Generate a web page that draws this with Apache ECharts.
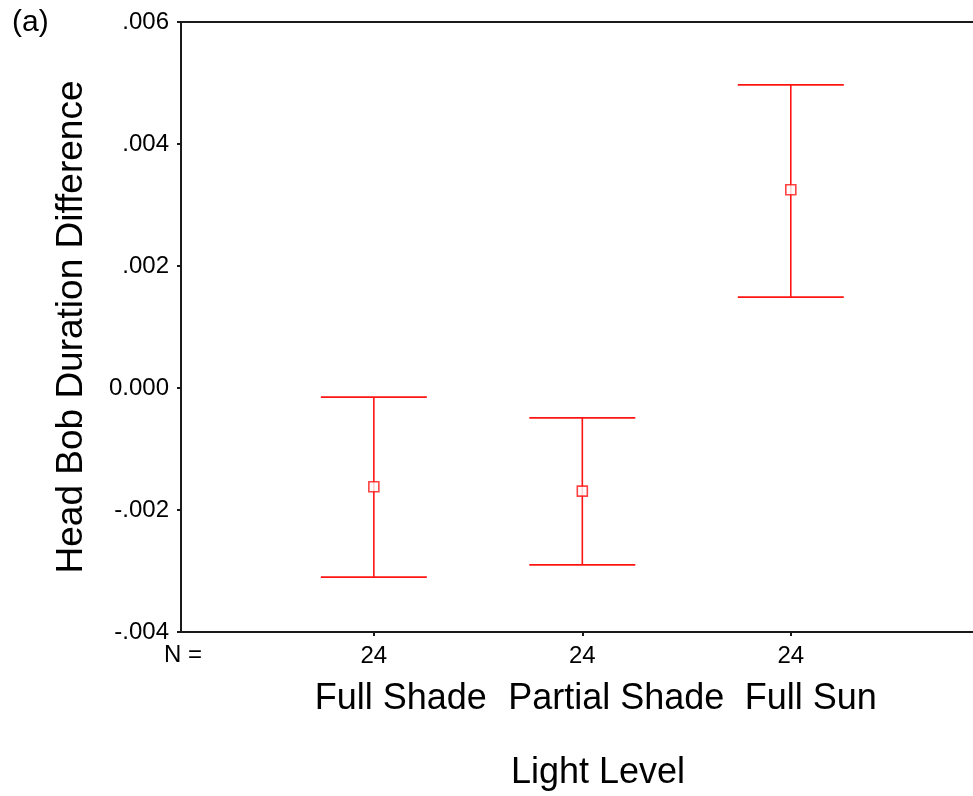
<!DOCTYPE html>
<html>
<head>
<meta charset="utf-8">
<title>Head Bob Duration Difference by Light Level</title>
<script src="https://cdn.jsdelivr.net/npm/echarts@6/dist/echarts.min.js"></script>
<style>
  html, body { margin: 0; padding: 0; background: #fff; }
  #chart { width: 973px; height: 796px; }
</style>
</head>
<body>
<div id="chart"></div>
<script>
// Light level groups, sample sizes, and mean ± error bar limits
const categories = ['Full Shade', 'Partial Shade', 'Full Sun'];
const counts = [24, 24, 24];
const means = [-0.00162, -0.00169, 0.00325];
const upper = [-0.00015, -0.00049, 0.00497];
const lower = [-0.00310, -0.00290, 0.00149];
const yTicks = { min: -0.004, max: 0.006, step: 0.002 };

const FONT = '"Liberation Sans", Arial, sans-serif';
const RED = '#ff1414';
const AXIS = '#1a1a1a';

const positions = categories.map((_, i) => i);
const barData = positions.map(i => [i, lower[i], upper[i]]);
const meanData = positions.map(i => [i, means[i]]);

// label styles for the group names (each nudged right of its tick)
const nameShift = [54, 68, 40];
const nameRich = {};
nameShift.forEach((p, i) => {
  nameRich['c' + i] = { fontSize: 36, color: '#000', fontFamily: FONT, padding: [0, 0, 0, p] };
});

function fmtY(v) {
  if (Math.abs(v) < 1e-9) return '0.000';
  const s = Math.abs(v).toFixed(3).replace(/^0/, '');
  return (v < 0 ? '-' : '') + s;
}

const chart = echarts.init(document.getElementById('chart'), null, { renderer: 'canvas' });

const xRange = { min: -0.925, max: 2.874 };

chart.setOption({
  backgroundColor: '#ffffff',
  animation: false,
  textStyle: { fontFamily: FONT },
  grid: { left: 181, top: 22, right: 0, bottom: 164, containLabel: false },
  xAxis: [
    {
      // bottom axis: group sizes under each tick
      type: 'value',
      position: 'bottom',
      min: xRange.min,
      max: xRange.max,
      name: 'Light Level',
      nameLocation: 'middle',
      nameGap: 123,
      nameTextStyle: { fontSize: 36, color: '#000', fontFamily: FONT, padding: [0, 0, 0, 42] },
      axisLine: { show: true, onZero: false, lineStyle: { color: AXIS, width: 2 } },
      axisTick: { show: true, customValues: positions, length: 4, lineStyle: { color: AXIS, width: 2 } },
      axisLabel: {
        customValues: positions,
        margin: 12,
        fontSize: 24,
        color: '#000',
        fontFamily: FONT,
        formatter: v => String(counts[Math.round(v)])
      },
      splitLine: { show: false }
    },
    {
      // group names below the counts
      type: 'value',
      position: 'bottom',
      offset: 49,
      min: xRange.min,
      max: xRange.max,
      axisLine: { show: false },
      axisTick: { show: false },
      axisLabel: {
        customValues: positions,
        margin: 0,
        rich: nameRich,
        formatter: v => {
          const i = Math.round(v);
          return '{c' + i + '|' + categories[i] + '}';
        }
      },
      splitLine: { show: false }
    },
    {
      // top frame line
      type: 'value',
      position: 'top',
      min: xRange.min,
      max: xRange.max,
      axisLine: { show: true, onZero: false, lineStyle: { color: AXIS, width: 2 } },
      axisTick: { show: false },
      axisLabel: { show: false },
      splitLine: { show: false }
    }
  ],
  yAxis: {
    type: 'value',
    min: yTicks.min,
    max: yTicks.max,
    interval: yTicks.step,
    name: 'Head Bob Duration Difference',
    nameLocation: 'middle',
    nameGap: 91,
    nameTextStyle: { fontSize: 37, color: '#000', fontFamily: FONT },
    axisLine: { show: true, onZero: false, lineStyle: { color: AXIS, width: 2 } },
    axisTick: { show: true, length: 4, lineStyle: { color: AXIS, width: 2 } },
    axisLabel: { margin: 12, fontSize: 24, color: '#000', fontFamily: FONT, formatter: fmtY },
    splitLine: { show: false }
  },
  graphic: [
    { type: 'text', left: 12, top: 8, style: { text: '(a)', font: '30px ' + FONT, fill: '#000' } },
    { type: 'text', left: 164, top: 643, style: { text: 'N =', font: '24px ' + FONT, fill: '#000' } }
  ],
  series: [
    {
      type: 'custom',
      xAxisIndex: 0,
      data: barData,
      encode: { x: 0, y: [1, 2] },
      renderItem: function (params, api) {
        const x = api.value(0);
        const lo = api.coord([x, api.value(1)]);
        const hi = api.coord([x, api.value(2)]);
        const half = 53;
        const style = { stroke: RED, lineWidth: 1.6, fill: null };
        return {
          type: 'group',
          children: [
            { type: 'line', shape: { x1: hi[0], y1: hi[1], x2: lo[0], y2: lo[1] }, style: style },
            { type: 'line', shape: { x1: hi[0] - half, y1: hi[1], x2: hi[0] + half, y2: hi[1] }, style: style },
            { type: 'line', shape: { x1: lo[0] - half, y1: lo[1], x2: lo[0] + half, y2: lo[1] }, style: style }
          ]
        };
      },
      z: 2
    },
    {
      type: 'scatter',
      xAxisIndex: 0,
      data: meanData,
      symbol: 'rect',
      symbolSize: 10,
      itemStyle: { color: '#ffffff', borderColor: RED, borderWidth: 1.6 },
      z: 3
    }
  ]
});
</script>
</body>
</html>
